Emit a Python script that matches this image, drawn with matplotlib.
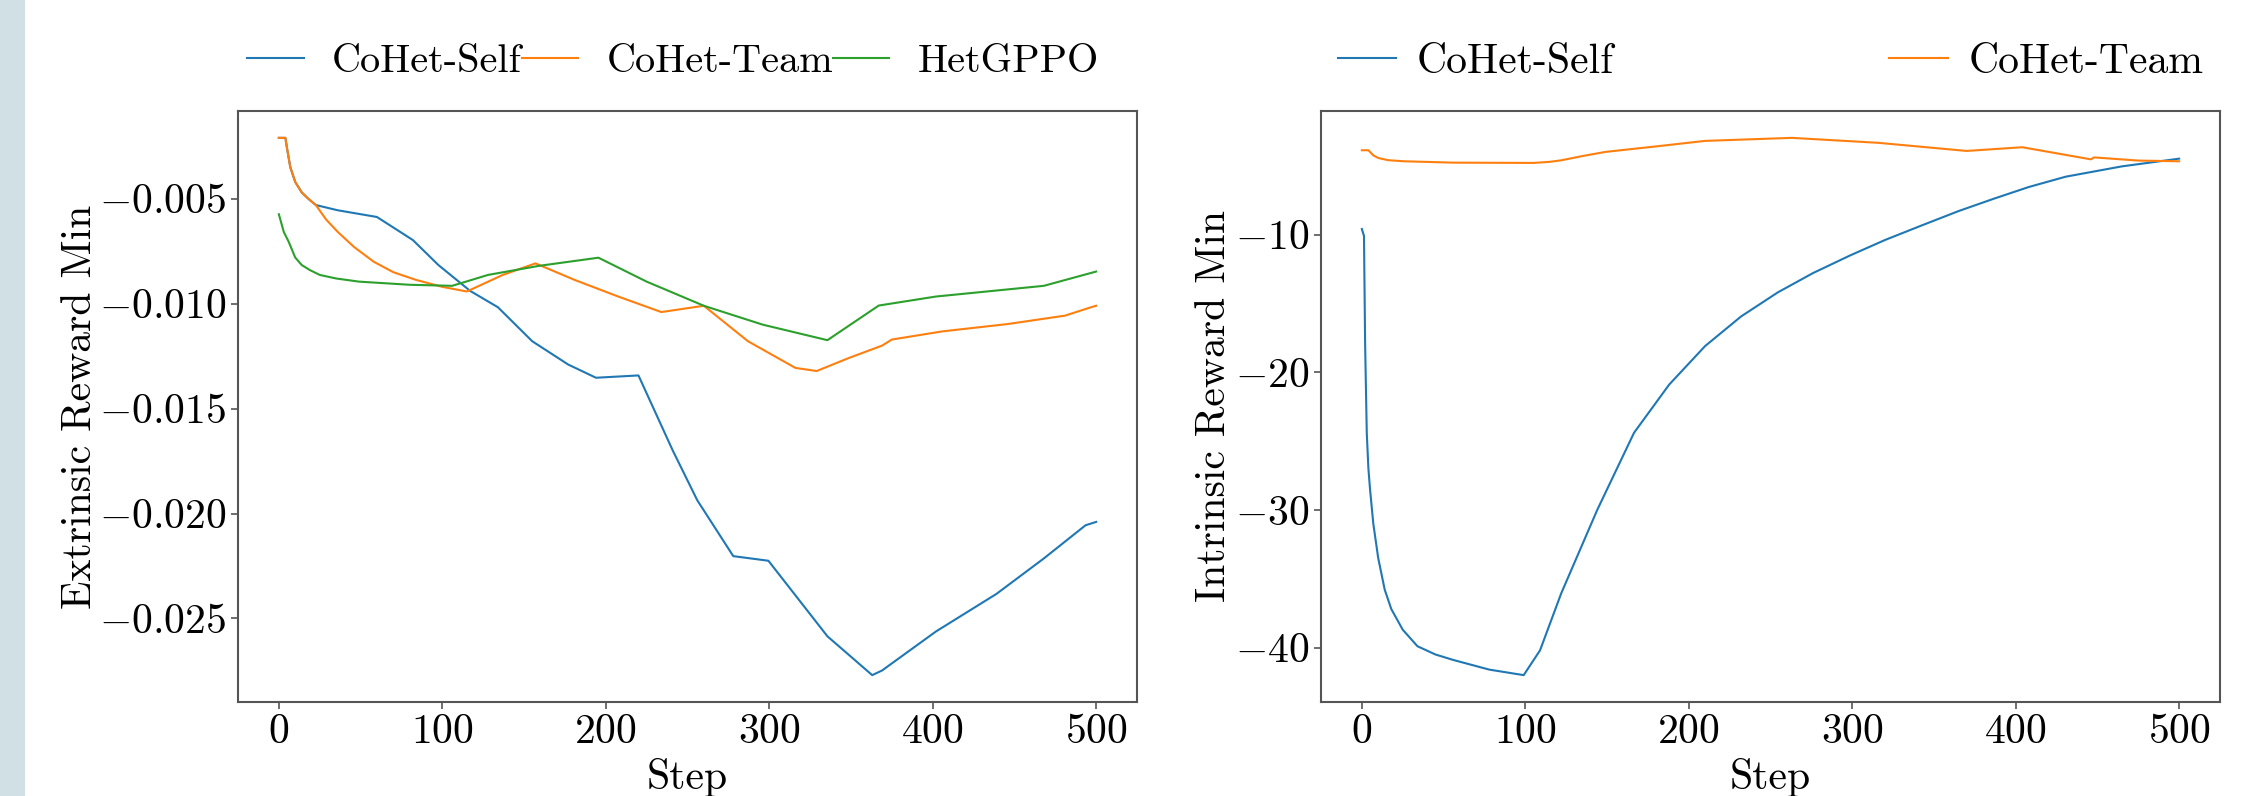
import matplotlib
matplotlib.use('Agg')
import matplotlib.pyplot as plt
from matplotlib.patches import Rectangle

plt.rcParams['font.family'] = 'serif'
plt.rcParams['font.serif'] = ['cmr10']
plt.rcParams['mathtext.fontset'] = 'cm'
plt.rcParams['axes.formatter.use_mathtext'] = True
plt.rcParams['axes.unicode_minus'] = True

# Extrinsic reward (left panel)
ext_self_x = [0, 4, 5, 7, 10, 14, 18, 22.6, 36, 60, 71, 82, 97.6, 117, 134, 155, 177, 194,
              220, 241, 256, 278, 299.5, 335.6, 363, 369, 402, 439, 468, 493.5, 500]
ext_self_y = [-0.0021, -0.0021, -0.0026, -0.0035, -0.0042, -0.0047, -0.0050, -0.0053,
              -0.00555, -0.00587, -0.00642, -0.00697, -0.00816, -0.00939, -0.01017, -0.01179,
              -0.0129, -0.01353, -0.01342, -0.0170, -0.01937, -0.02203, -0.02225, -0.02585,
              -0.0277, -0.02748, -0.02562, -0.02383, -0.02214, -0.02056, -0.0204]

ext_team_x = [0, 4, 5, 7, 10, 14, 18, 22.6, 29, 36, 46, 58, 70, 84, 100, 115, 137, 157, 181,
              207.6, 234, 260, 287, 316, 329, 349, 369, 375, 406, 446, 481, 496.5, 500]
ext_team_y = [-0.0021, -0.0021, -0.0026, -0.0035, -0.0042, -0.0047, -0.0050, -0.0053,
              -0.0060, -0.00658, -0.0073, -0.0080, -0.0085, -0.00887, -0.0092, -0.00942,
              -0.00863, -0.00808, -0.00887, -0.00966, -0.0104, -0.0101, -0.01179, -0.01306,
              -0.01321, -0.01258, -0.0120, -0.01171, -0.01132, -0.01097, -0.01057, -0.01018,
              -0.0101]

ext_gppo_x = [0, 3, 6, 10, 14, 19, 25, 35, 49, 80, 106, 128, 159, 195.5, 225, 260, 296,
              335.6, 367, 402, 468, 500]
ext_gppo_y = [-0.00574, -0.00658, -0.00705, -0.0078, -0.00816, -0.0084, -0.00863, -0.0088,
              -0.00895, -0.0091, -0.00915, -0.00863, -0.0082, -0.00781, -0.00895, -0.0101,
              -0.0110, -0.01174, -0.01009, -0.00966, -0.00915, -0.00847]

# Intrinsic reward (right panel)
int_self_x = [0, 1.3, 2, 3, 4, 5, 7, 10, 14, 18, 25, 34, 45, 56, 78, 99, 109, 122, 144,
              166.5, 188, 210, 232, 254.5, 276, 298.5, 320, 342.5, 365, 386.6, 408, 430.6,
              465, 500]
int_self_y = [-9.6, -10.1, -18.0, -24.4, -27.0, -28.5, -31.0, -33.5, -35.8, -37.2, -38.7,
              -39.9, -40.5, -40.9, -41.6, -42.0, -40.2, -36.05, -30.0, -24.4, -20.9, -18.1,
              -15.95, -14.2, -12.8, -11.53, -10.4, -9.34, -8.3, -7.4, -6.55, -5.8, -5.05,
              -4.49]

int_team_x = [0, 4, 7, 10, 16, 25.6, 56, 105, 115, 122, 135, 149, 180, 210, 263, 316, 370,
              404, 446, 448, 475, 500]
int_team_y = [-3.88, -3.88, -4.25, -4.44, -4.6, -4.68, -4.78, -4.80, -4.72, -4.61, -4.3,
              -4.0, -3.6, -3.2, -2.98, -3.34, -3.93, -3.66, -4.54, -4.4, -4.63, -4.68]

c_blue, c_orange, c_green = '#1f77b4', '#ff7f0e', '#2ca02c'
fs = 30

fig = plt.figure(figsize=(22.57, 7.96), dpi=100)
fig.patches.append(Rectangle((0, 0), 25 / 2257, 1, transform=fig.transFigure,
                             facecolor='#d0e0e4', edgecolor='none', zorder=-1))

ax1 = fig.add_axes([238 / 2257, 94 / 796, 899 / 2257, 591 / 796])
ax2 = fig.add_axes([1321 / 2257, 94 / 796, 899 / 2257, 591 / 796])

ax1.plot(ext_self_x, ext_self_y, color=c_blue, lw=1.5, label='CoHet-Self')
ax1.plot(ext_team_x, ext_team_y, color=c_orange, lw=1.5, label='CoHet-Team')
ax1.plot(ext_gppo_x, ext_gppo_y, color=c_green, lw=1.5, label='HetGPPO')
ax1.set_ylabel('Extrinsic Reward Min', fontsize=fs, labelpad=0)
ax1.set_yticks([-0.005, -0.010, -0.015, -0.020, -0.025])

ax2.plot(int_self_x, int_self_y, color=c_blue, lw=1.5, label='CoHet-Self')
ax2.plot(int_team_x, int_team_y, color=c_orange, lw=1.5, label='CoHet-Team')
ax2.set_ylabel('Intrinsic Reward Min', fontsize=fs, labelpad=1)
ax2.set_yticks([-10, -20, -30, -40])

for ax in (ax1, ax2):
    ax.set_xlabel('Step', fontsize=fs, labelpad=5)
    ax.set_xticks([0, 100, 200, 300, 400, 500])
    ax.tick_params(labelsize=fs, color='#555555', length=5, width=1.2)
    for s in ax.spines.values():
        s.set_color('#555555')
        s.set_linewidth(1.5)

ax1.legend(loc='center', bbox_to_anchor=(0.484, 1.083), ncol=3, frameon=False,
           fontsize=29, handlelength=1.4, handletextpad=0.7, columnspacing=0.0)
ax2.legend(loc='center', bbox_to_anchor=(0, 1.083, 1, 0), mode='expand', ncol=2,
           frameon=False, fontsize=fs, handlelength=1.4, handletextpad=0.5,
           borderaxespad=0.0)

fig.savefig('out.png', dpi=100)
